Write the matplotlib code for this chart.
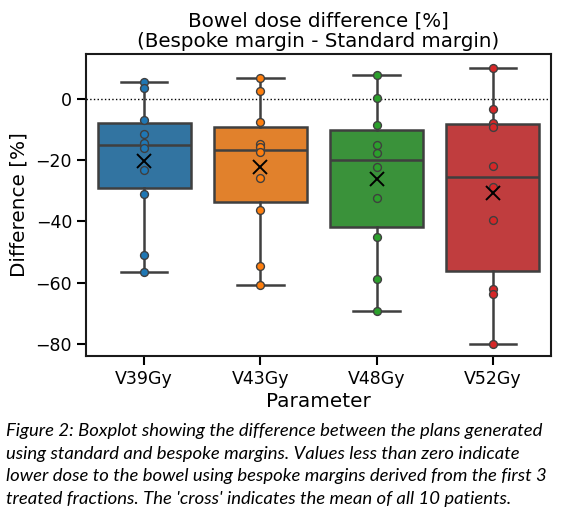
import matplotlib
matplotlib.use("Agg")
import matplotlib.pyplot as plt
import numpy as np

categories = ["V39Gy", "V43Gy", "V48Gy", "V52Gy"]
v39 = [5.4, 3.5, -6.8, -11.3, -14.4, -16.0, -23.1, -31.1, -51.1, -56.6]
v43 = [6.9, 2.7, -7.5, -14.6, -15.8, -17.3, -25.9, -36.3, -54.6, -60.9]
v48 = [8.0, 0.3, -8.6, -14.9, -17.7, -22.1, -32.3, -45.1, -58.7, -69.3]
v52 = [10.0, -3.3, -7.9, -9.0, -21.9, -28.9, -39.4, -62.0, -63.7, -80.0]
series = [v39, v43, v48, v52]

box_colors = ["#3274a1", "#e1812c", "#3a923a", "#c03d3e"]
point_colors = ["#1f77b4", "#ff7f0e", "#2ca02c", "#d62728"]
edge = "#3f3f3f"

W, H = 561, 517
fig = plt.figure(figsize=(W / 100, H / 100), dpi=100)
ax = fig.add_axes([86 / W, 1 - 356 / H, (551 - 86) / W, (356 - 54) / H])

pos = np.arange(len(categories))
bp = ax.boxplot(series, positions=pos, widths=0.8, patch_artist=True,
                whis=1.5, showfliers=False, capwidths=0.4,
                medianprops=dict(color=edge, linewidth=1.8),
                whiskerprops=dict(color=edge, linewidth=1.8),
                capprops=dict(color=edge, linewidth=1.8),
                boxprops=dict(edgecolor=edge, linewidth=1.8))
for patch, c in zip(bp["boxes"], box_colors):
    patch.set_facecolor(c)

for i, (vals, c) in enumerate(zip(series, point_colors)):
    ax.scatter(np.full(len(vals), pos[i]), vals, s=32, color=c,
               edgecolor=edge, linewidth=1.0, zorder=4)
    ax.plot([pos[i]], [np.mean(vals)], marker="x", color="black",
            markersize=10.5, markeredgewidth=1.4, zorder=5, linestyle="none")

ax.axhline(0, color="black", linestyle=":", linewidth=1.0, zorder=0.5)

ax.set_xlim(-0.5, 3.5)
ax.set_ylim(-84, 14.7)
ax.set_yticks([0, -20, -40, -60, -80])
ax.set_xticks(pos)
ax.set_xticklabels(categories)
ax.tick_params(axis="both", labelsize=12.5, length=6.5, width=1.5, pad=3.5)
for s in ax.spines.values():
    s.set_linewidth(1.5)
    s.set_color("#1a1a1a")

ax.set_xlabel("Parameter", fontsize=14.4, labelpad=3)
ax.set_ylabel("Difference [%]", fontsize=14.4, labelpad=5)
ax.set_title("Bowel dose difference [%]\n(Bespoke margin - Standard margin)",
             fontsize=14.3, pad=5, linespacing=1.12)

caption = [
    "Figure 2: Boxplot showing the difference between the plans generated",
    "using standard and bespoke margins. Values less than zero indicate",
    "lower dose to the bowel using bespoke margins derived from the first 3",
    "treated fractions. The 'cross' indicates the mean of all 10 patients.",
]
for k, line in enumerate(caption):
    fig.text(6 / W, 1 - (431 + 22.7 * k) / H, line, fontsize=13.3,
             fontstyle="italic", family="Lato", ha="left", va="center")

fig.savefig("out.png", dpi=100)
